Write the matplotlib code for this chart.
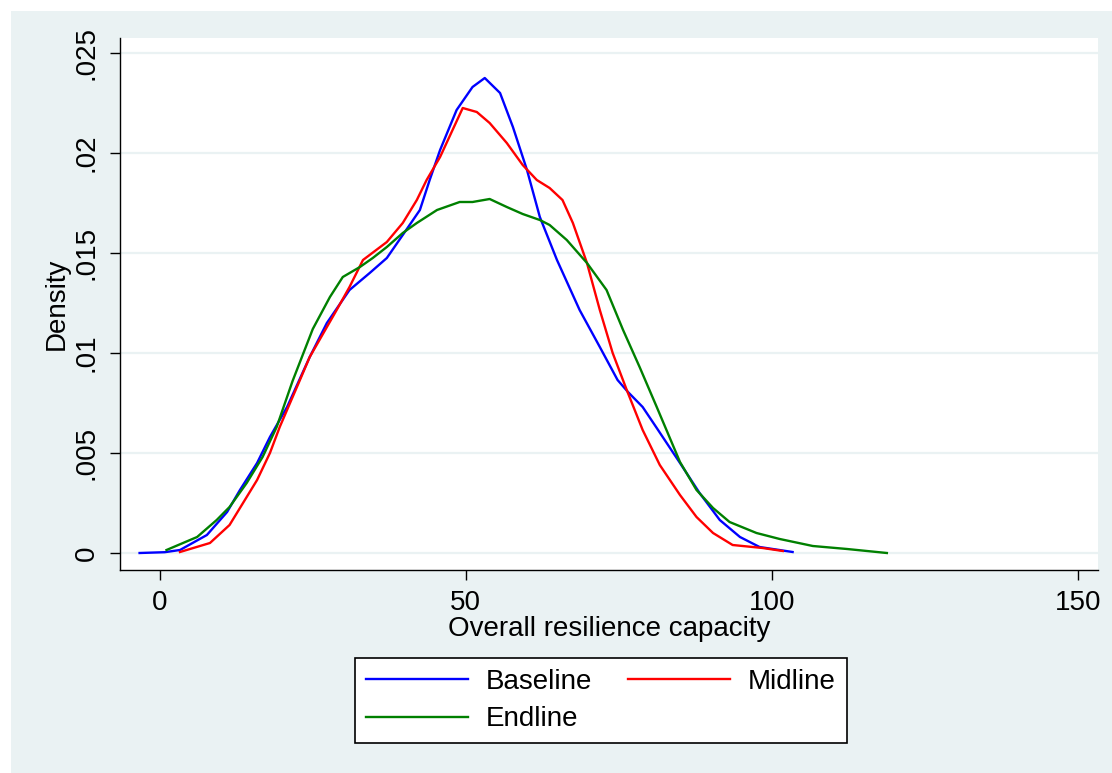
import matplotlib
matplotlib.use("Agg")
import matplotlib.pyplot as plt
from matplotlib.patches import Rectangle

# kernel density curves
base_x = [-3.3, 0.8, 3.3, 7.7, 11.0, 13.1, 15.9, 18.0, 20.8, 24.5, 27.3, 31.0, 34.3, 37.1,
          39.7, 42.5, 44.1, 45.8, 48.5, 51.1, 53.1, 55.6, 57.7, 60.0, 62.1, 64.9, 68.6,
          71.9, 74.8, 76.5, 78.9, 81.2, 85.0, 88.2, 91.5, 94.8, 98.0, 103.4]
base_y = [0.0, 0.00004, 0.00015, 0.0009, 0.00205, 0.00315, 0.0045, 0.0058, 0.0073, 0.0098,
          0.0115, 0.01315, 0.014, 0.01475, 0.0159, 0.01715, 0.01865, 0.02015, 0.02215,
          0.0233, 0.02375, 0.023, 0.0213, 0.01915, 0.0168, 0.01465, 0.01215, 0.0103,
          0.00865, 0.00805, 0.0073, 0.00625, 0.0045, 0.003, 0.00165, 0.0008, 0.0003, 0.00005]

mid_x = [3.3, 8.2, 11.4, 13.6, 15.9, 18.0, 19.6, 22.9, 24.5, 28.9, 31.0, 33.2, 37.1, 39.7,
         42.0, 43.6, 45.8, 49.5, 51.8, 53.9, 56.7, 59.3, 61.6, 63.7, 65.8, 67.5, 69.8,
         71.9, 74.0, 76.3, 78.9, 81.7, 85.0, 87.7, 90.4, 93.6, 98.5, 101.8]
mid_y = [0.00005, 0.0005, 0.0014, 0.0025, 0.00365, 0.005, 0.0063, 0.00865, 0.0098, 0.01215,
         0.0133, 0.01465, 0.01555, 0.0165, 0.01765, 0.01865, 0.0198, 0.02225, 0.02205,
         0.0215, 0.0205, 0.0194, 0.01865, 0.01825, 0.01765, 0.0165, 0.0145, 0.01215, 0.01,
         0.00815, 0.00615, 0.0044, 0.0029, 0.0018, 0.001, 0.0004, 0.00025, 0.0001]

end_x = [1.1, 6.1, 9.3, 11.4, 14.2, 16.8, 19.1, 21.7, 25.0, 27.8, 29.9, 32.7, 34.8, 37.1,
         39.7, 42.0, 45.3, 49.0, 51.1, 53.9, 56.7, 59.3, 62.1, 63.7, 66.5, 69.8, 73.0,
         75.7, 78.4, 81.2, 85.0, 87.7, 90.4, 93.1, 97.5, 101.3, 106.7, 112.3, 118.8]
end_y = [0.00015, 0.0008, 0.00165, 0.0023, 0.0035, 0.0048, 0.0063, 0.0086, 0.0112, 0.0128,
         0.0138, 0.0143, 0.01475, 0.0153, 0.016, 0.0165, 0.01715, 0.01755, 0.01755, 0.0177,
         0.0173, 0.01695, 0.01665, 0.0164, 0.01565, 0.0145, 0.01315, 0.01115, 0.0093,
         0.0073, 0.00455, 0.00315, 0.00225, 0.00155, 0.001, 0.0007, 0.00035, 0.0002, 0.0]

yticks = [0, 0.005, 0.01, 0.015, 0.02, 0.025]
ytick_labels = ["0", ".005", ".01", ".015", ".02", ".025"]
xticks = [0, 50, 100, 150]

plt.rcParams["font.family"] = ["Liberation Sans", "DejaVu Sans"]
bg = "#EAF2F3"
fs = 20

fig = plt.figure(figsize=(11.12, 7.73), dpi=100, facecolor="white")
fig.patches.append(Rectangle((11 / 1112, 0), 1 - 11 / 1112, 1 - 11 / 773,
                             transform=fig.transFigure, facecolor=bg,
                             edgecolor="none", zorder=-10))
ax = fig.add_axes([120 / 1112, 1 - 570 / 773, 978 / 1112, 532 / 773])
ax.set_facecolor("white")

l1, = ax.plot(base_x, base_y, color="#0000FF", lw=1.7, label="Baseline")
l2, = ax.plot(mid_x, mid_y, color="#FF0000", lw=1.7, label="Midline")
l3, = ax.plot(end_x, end_y, color="#008000", lw=1.7, label="Endline")

ax.set_xlim(-6.5, 153.3)
ax.set_ylim(-0.00085, 0.02575)
ax.set_xticks(xticks)
ax.set_yticks(yticks)
ax.set_yticklabels(ytick_labels, rotation=90, va="center")
ax.tick_params(length=7.5, width=1, labelsize=fs, pad=7, color="black")

ax.grid(axis="y", color=bg, lw=1.6)
ax.set_axisbelow(True)
for s in ["top", "right"]:
    ax.spines[s].set_visible(False)
for s in ["left", "bottom"]:
    ax.spines[s].set_linewidth(1)

ax.set_xlabel("Overall resilience capacity", fontsize=fs, labelpad=0)
ax.set_ylabel("Density", fontsize=fs, labelpad=3)

# column-major fill: Baseline / Endline in col 1, Midline in col 2
leg = fig.legend([l1, l3, l2], ["Baseline", "Endline", "Midline"],
                 loc="upper left", bbox_to_anchor=(355 / 1112, 1 - 658 / 773, 492 / 1112, 0),
                 ncol=2, mode="expand", fontsize=fs, frameon=True, fancybox=False,
                 edgecolor="black", framealpha=1, handlelength=3.67, handletextpad=0.65,
                 labelspacing=0.4, borderaxespad=0, borderpad=0.4)
leg.get_frame().set_linewidth(1.2)

fig.savefig("out.png", dpi=100, facecolor=fig.get_facecolor())
